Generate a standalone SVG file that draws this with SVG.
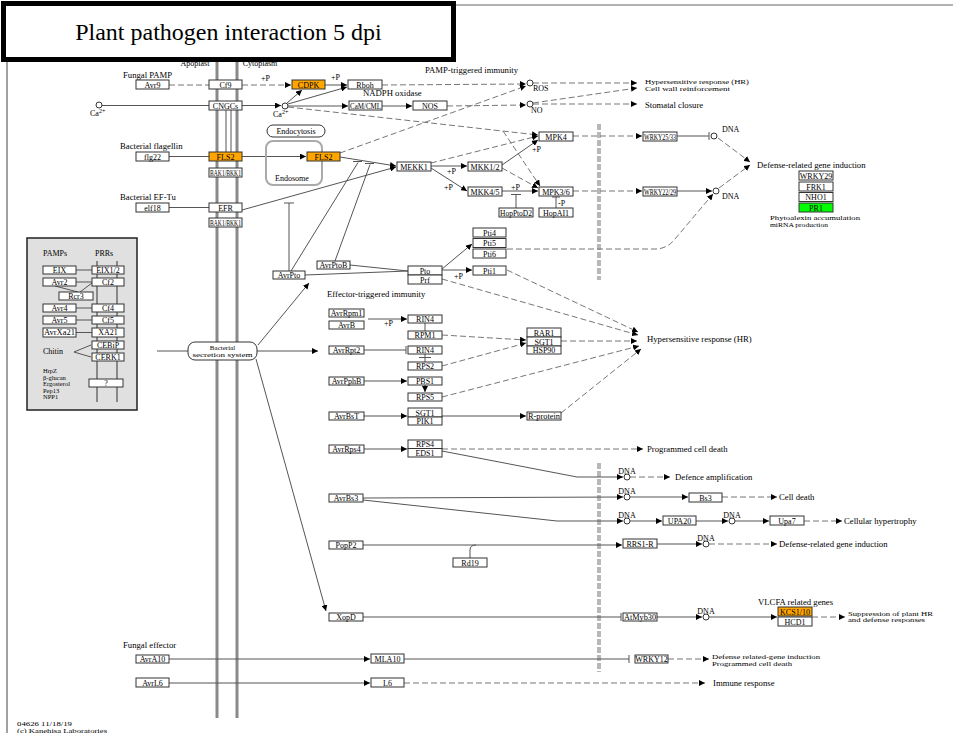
<svg xmlns="http://www.w3.org/2000/svg" width="953" height="733" viewBox="0 0 953 733">
<defs>
<marker id="ar" markerWidth="7" markerHeight="6" refX="6" refY="3" orient="auto" markerUnits="userSpaceOnUse"><path d="M0,0 L6,3 L0,6 z" fill="#000"/></marker>
<style>
.t{font-family:"Liberation Serif","Times New Roman",serif;font-size:8px;fill:#000}
.L{font-size:8.7px}
.sm{font-size:7px}
.xs{font-size:6.5px}
.c{text-anchor:middle}
.b{fill:#fff;stroke:#333;stroke-width:1}
.o{fill:#ffa500}
.g{fill:#00ff00}
.s{fill:none;stroke:#555;stroke-width:1}
.d{fill:none;stroke:#777;stroke-width:1;stroke-dasharray:6,3}
.a{marker-end:url(#ar)}
.cir{fill:#fff;stroke:#333;stroke-width:1}
.mem{stroke:#8a8a8a;stroke-width:3}
.nuc{stroke:#b8b8b8;stroke-width:4;stroke-dasharray:6,2}
.rr{fill:#fff;stroke:#333;stroke-width:1}
</style>
</defs>
<rect width="953" height="733" fill="#fff"/>
<g id="frame">
<line x1="453" y1="5" x2="953" y2="5" stroke="#666" stroke-width="1"/>
<line x1="7" y1="60" x2="7" y2="733" stroke="#444" stroke-width="1"/>
<line class="mem" x1="217" y1="60" x2="217" y2="718"/>
<line class="mem" x1="237" y1="60" x2="237" y2="718"/>
<line class="nuc" x1="599" y1="124" x2="599" y2="280"/>
<line class="nuc" x1="599" y1="463" x2="599" y2="672"/>
<text class="t c" x="195" y="66">Apoplast</text>
<text class="t c" x="260" y="66">Cytoplasm</text>
</g>

<g id="pamps-panel">
<rect x="27" y="238" width="110" height="172" fill="#e0e0e0" stroke="#222" stroke-width="1.5"/>
<line x1="97" y1="261" x2="97" y2="402" stroke="#888" stroke-width="2"/>
<line x1="117" y1="261" x2="117" y2="402" stroke="#888" stroke-width="2"/>
<text class="t" x="43" y="256">PAMPs</text>
<text class="t" x="95" y="256">PRRs</text>
<g class="s">
<line x1="76" y1="270" x2="92" y2="270"/>
<line x1="76" y1="282" x2="92" y2="282"/>
<line x1="55" y1="286" x2="78" y2="292"/>
<line x1="80" y1="292" x2="92" y2="283"/>
<line x1="76" y1="308" x2="92" y2="308"/>
<line x1="76" y1="320" x2="92" y2="320"/>
<line x1="76" y1="332.5" x2="92" y2="332.5"/>
<line x1="74" y1="352" x2="91" y2="345"/>
<line x1="74" y1="352" x2="91" y2="357"/>
</g>
<g id="n_eix"><rect class="b" x="43" y="266" width="33" height="8"/><text class="t c" x="59.5" y="272.5">EIX</text></g>
<g id="n_eix12"><rect class="b" x="92" y="266" width="32" height="8"/><text class="t c" x="108" y="272.5">EIX1/2</text></g>
<g id="n_avr2"><rect class="b" x="43" y="278" width="33" height="8"/><text class="t c" x="59.5" y="284.5">Avr2</text></g>
<g id="n_cf2"><rect class="b" x="92" y="278" width="32" height="8"/><text class="t c" x="108" y="284.5">Cf2</text></g>
<g id="n_rcr3"><rect class="b" x="59" y="292" width="34" height="8"/><text class="t c" x="76" y="298.5">Rcr3</text></g>
<g id="n_avr4"><rect class="b" x="43" y="304" width="33" height="8"/><text class="t c" x="59.5" y="310.5">Avr4</text></g>
<g id="n_cf4"><rect class="b" x="92" y="304" width="32" height="8"/><text class="t c" x="108" y="310.5">Cf4</text></g>
<g id="n_avr5"><rect class="b" x="43" y="316" width="33" height="8"/><text class="t c" x="59.5" y="322.5">Avr5</text></g>
<g id="n_cf5"><rect class="b" x="92" y="316" width="32" height="8"/><text class="t c" x="108" y="322.5">Cf5</text></g>
<g id="n_avrxa21"><rect class="b" x="43" y="328" width="33" height="9"/><text class="t c" x="59.5" y="335" textLength="31" lengthAdjust="spacingAndGlyphs">AvrXa21</text></g>
<g id="n_xa21"><rect class="b" x="92" y="328" width="32" height="9"/><text class="t c" x="108" y="335">XA21</text></g>
<g id="n_cebip"><rect class="b" x="92" y="341" width="32" height="8"/><text class="t c" x="108" y="347.5">CEBiP</text></g>
<g id="n_cerk1"><rect class="b" x="92" y="353" width="32" height="8"/><text class="t c" x="108" y="359.5">CERK1</text></g>
<g id="n_q"><rect class="b" x="89" y="379" width="34" height="8"/><text class="t c" x="106" y="385.5">?</text></g>
<text class="t" x="43" y="354">Chitin</text>
<text class="t xs" x="43" y="373">HrpZ</text>
<text class="t xs" x="43" y="379.5">β-glucan</text>
<text class="t xs" x="43" y="386">Ergosterol</text>
<text class="t xs" x="43" y="392.5">Pep13</text>
<text class="t xs" x="43" y="399">NPP1</text>
</g>

<g id="connectors">
<line class="d" x1="169" y1="85" x2="209" y2="85"/>
<line class="d a" x1="242" y1="85" x2="291" y2="85"/>
<line class="s" x1="102" y1="105.5" x2="209" y2="105.5"/>
<line class="s a" x1="242" y1="105.5" x2="281" y2="105.5"/>
<line class="s a" x1="287" y1="103" x2="302" y2="90"/>
<line class="s a" x1="325" y1="85" x2="347" y2="85"/>
<line class="s a" x1="288" y1="104" x2="347" y2="87"/>
<line class="s a" x1="288" y1="106" x2="348" y2="106"/>
<line class="s a" x1="382" y1="106" x2="412" y2="106"/>
<line class="d a" x1="447" y1="106" x2="526" y2="105"/>
<line class="d a" x1="382" y1="85" x2="526" y2="84"/>
<line class="d a" x1="533" y1="83" x2="637" y2="83"/>
<line class="d a" x1="533" y1="103" x2="637" y2="88"/>
<line class="d a" x1="533" y1="104" x2="637" y2="104"/>
<line class="d a" x1="340" y1="153" x2="526" y2="86"/>
<line class="d a" x1="288" y1="107" x2="538" y2="135"/>
<line class="d a" x1="503" y1="131" x2="540" y2="186"/>
<line class="s" x1="226" y1="110" x2="226" y2="152"/>
<line class="s" x1="231" y1="110" x2="231" y2="152"/>
<line class="s" x1="169" y1="156.5" x2="209" y2="156.5"/>
<line class="s a" x1="242" y1="156.5" x2="306" y2="156.5"/>
<line class="s a" x1="340" y1="157" x2="396" y2="166"/>
<line class="s a" x1="242" y1="210" x2="396" y2="167"/>
<line class="s" x1="169" y1="207.5" x2="209" y2="207.5"/>
<line class="s a" x1="431" y1="166" x2="467" y2="166"/>
<line class="s a" x1="431" y1="168" x2="467" y2="191"/>
<line class="d a" x1="431" y1="163" x2="538" y2="136"/>
<line class="s a" x1="502" y1="165" x2="538" y2="140"/>
<line class="d a" x1="502" y1="168" x2="538" y2="188"/>
<line class="s a" x1="502" y1="191" x2="538" y2="191"/>
<path class="s" d="M516,208 V194.5 M511,194.5 H521"/>
<path class="s" d="M556,208 V197 M552,197 H560"/>
<line class="d a" x1="573" y1="136" x2="642" y2="136"/>
<line class="d a" x1="573" y1="191" x2="642" y2="191"/>
<path class="s" d="M677,136 H709 M709,132 V140"/>
<line class="s a" x1="677" y1="191" x2="712" y2="191"/>
<line class="d a" x1="718" y1="138" x2="750" y2="162"/>
<line class="d a" x1="719" y1="188" x2="750" y2="165"/>
<path class="d a" d="M507,249 L655,249 Q667,249 675,239 L713,194"/>
<line class="s a" x1="442" y1="269" x2="472" y2="244"/>
<line class="s a" x1="442" y1="270" x2="472" y2="270"/>
<line class="s" x1="305" y1="275" x2="408" y2="271"/>
<line class="s" x1="350" y1="265" x2="408" y2="271"/>
<path class="s" d="M291,271 L358,162.5 M353,161.5 H362"/>
<path class="s" d="M335,261 L370,164.5 M365,163.5 H374"/>
<path class="s" d="M289,271 V203 M284,203 H294"/>
<line class="s" x1="157" y1="351" x2="188" y2="351"/>
<line class="s a" x1="258" y1="345" x2="309" y2="283"/>
<line class="s a" x1="257" y1="351" x2="318" y2="351"/>
<line class="s a" x1="256" y1="359" x2="326" y2="611"/>
<line class="s a" x1="368" y1="319" x2="407" y2="319"/>
<line class="s" x1="425" y1="323" x2="425" y2="331"/>
<path class="s" d="M364,350 H406 M406,346 V354"/>
<path class="s" d="M425,354 V362 M419,357.5 H431"/>
<line class="d a" x1="442" y1="335" x2="526" y2="340"/>
<line class="d a" x1="442" y1="366" x2="526" y2="343"/>
<line class="d a" x1="561" y1="341" x2="637" y2="341"/>
<line class="s a" x1="364" y1="381" x2="407" y2="381"/>
<line class="s a" x1="425" y1="385" x2="425" y2="392"/>
<line class="d a" x1="442" y1="397" x2="639" y2="346"/>
<line class="s a" x1="364" y1="416" x2="407" y2="416"/>
<line class="s a" x1="442" y1="416" x2="526" y2="416"/>
<line class="d a" x1="561" y1="413" x2="641" y2="349"/>
<line class="d a" x1="507" y1="270" x2="638" y2="332"/>
<line class="d a" x1="442" y1="279" x2="638" y2="335"/>
<line class="s a" x1="364" y1="449" x2="407" y2="449"/>
<line class="d a" x1="442" y1="449" x2="643" y2="449"/>
<path class="s a" d="M442,451 L577,477 L623,477"/>
<line class="d a" x1="630" y1="477" x2="670" y2="477"/>
<line class="s a" x1="363" y1="498" x2="623" y2="497"/>
<path class="s a" d="M363,500 L557,521 L623,521"/>
<line class="s a" x1="630" y1="497" x2="688" y2="497"/>
<line class="d a" x1="722" y1="497" x2="777" y2="497"/>
<line class="s a" x1="630" y1="521" x2="662" y2="521"/>
<line class="s a" x1="696" y1="521" x2="728" y2="521"/>
<line class="s a" x1="735" y1="521" x2="769" y2="521"/>
<line class="d a" x1="804" y1="521" x2="842" y2="521"/>
<line class="s a" x1="363" y1="545" x2="622" y2="545"/>
<path class="s" d="M470,558 V550 Q470,545 476,545"/>
<line class="s a" x1="657" y1="544" x2="702" y2="544"/>
<line class="d a" x1="709" y1="544" x2="777" y2="544"/>
<path class="s" d="M363,617 H621 M621,613 V621"/>
<line class="s a" x1="657" y1="617" x2="702" y2="617"/>
<line class="s a" x1="709" y1="617" x2="777" y2="617"/>
<line class="d a" x1="812" y1="617" x2="845" y2="617"/>
<line class="s a" x1="169" y1="659" x2="370" y2="659"/>
<path class="s" d="M404,659 H629 M629,655 V663"/>
<line class="d a" x1="668" y1="659" x2="709" y2="659"/>
<line class="s a" x1="169" y1="683" x2="370" y2="683"/>
<line class="d a" x1="404" y1="683" x2="705" y2="683"/>
</g>

<g id="compartments">
<g id="n_endocytosis"><rect class="rr" x="267" y="125" width="58" height="12" rx="6"/><text class="t c" x="296" y="134">Endocytosis</text></g>
<g id="n_endosome"><rect x="266" y="141" width="56" height="44" rx="7" fill="none" stroke="#aaa" stroke-width="2"/><text class="t c" x="292" y="181">Endosome</text></g>
<g id="n_bss"><rect class="rr" x="188" y="342" width="69" height="18" rx="7"/><text class="t c sm" x="222.5" y="350">Bacterial</text><text class="t c sm" x="222.5" y="357" textLength="60" lengthAdjust="spacingAndGlyphs">secretion system</text></g>
</g>

<g id="circles">
<circle class="cir" cx="99" cy="105" r="3"/>
<circle class="cir" cx="285" cy="106" r="3"/>
<circle class="cir" cx="530" cy="83" r="3"/>
<circle class="cir" cx="530" cy="104" r="3"/>
<circle class="cir" cx="714" cy="136" r="3"/>
<circle class="cir" cx="716" cy="191" r="3"/>
<circle class="cir" cx="627" cy="477" r="3"/>
<circle class="cir" cx="627" cy="497" r="3"/>
<circle class="cir" cx="627" cy="521" r="3"/>
<circle class="cir" cx="732" cy="521" r="3"/>
<circle class="cir" cx="706" cy="544" r="3"/>
<circle class="cir" cx="706" cy="617" r="3"/>
</g>

<g id="nodes">
<g id="n_avr9"><rect class="b" x="136" y="80" width="33" height="9"/><text class="t c" x="152.5" y="87.5">Avr9</text></g>
<g id="n_flg22"><rect class="b" x="136" y="152" width="33" height="9"/><text class="t c" x="152.5" y="159.5">flg22</text></g>
<g id="n_elf18"><rect class="b" x="136" y="203" width="33" height="9"/><text class="t c" x="152.5" y="210.5">elf18</text></g>
<g id="n_avra10"><rect class="b" x="136" y="655" width="33" height="8"/><text class="t c" x="152.5" y="661.5">AvrA10</text></g>
<g id="n_avrl6"><rect class="b" x="136" y="678" width="33" height="9"/><text class="t c" x="152.5" y="685.5">AvrL6</text></g>
<g id="n_cf9"><rect class="b" x="209" y="80" width="33" height="9"/><text class="t c" x="225.5" y="87.5">Cf9</text></g>
<g id="n_cngcs"><rect class="b" x="209" y="101" width="33" height="9"/><text class="t c" x="225.5" y="108.5">CNGCs</text></g>
<g id="n_fls2a"><rect class="b o" x="209" y="152" width="33" height="9"/><text class="t c" x="225.5" y="159.5">FLS2</text></g>
<g id="n_bak1a"><rect class="b" x="209" y="168" width="33" height="9"/><text class="t c" x="225.5" y="175.5" textLength="31" lengthAdjust="spacingAndGlyphs">BAK1/BKK1</text></g>
<g id="n_efr"><rect class="b" x="209" y="203" width="33" height="9"/><text class="t c" x="225.5" y="210.5">EFR</text></g>
<g id="n_bak1b"><rect class="b" x="209" y="218" width="33" height="9"/><text class="t c" x="225.5" y="225.5" textLength="31" lengthAdjust="spacingAndGlyphs">BAK1/BKK1</text></g>
<g id="n_cdpk"><rect class="b o" x="292" y="80" width="33" height="9"/><text class="t c" x="308.5" y="87.5">CDPK</text></g>
<g id="n_rboh"><rect class="b" x="348" y="80" width="34" height="9"/><text class="t c" x="365" y="87.5">Rboh</text></g>
<g id="n_camcml"><rect class="b" x="349" y="101" width="33" height="9"/><text class="t c" x="365.5" y="108.5" textLength="31" lengthAdjust="spacingAndGlyphs">CaM/CML</text></g>
<g id="n_nos"><rect class="b" x="413" y="101" width="34" height="9"/><text class="t c" x="430" y="108.5">NOS</text></g>
<g id="n_fls2b"><rect class="b o" x="307" y="152" width="33" height="9"/><text class="t c" x="323.5" y="159.5">FLS2</text></g>
<g id="n_mekk1"><rect class="b" x="397" y="162" width="34" height="9"/><text class="t c" x="414" y="169.5">MEKK1</text></g>
<g id="n_mkk12"><rect class="b" x="468" y="162" width="34" height="9"/><text class="t c" x="485" y="169.5">MKK1/2</text></g>
<g id="n_mkk45"><rect class="b" x="468" y="187" width="34" height="9"/><text class="t c" x="485" y="194.5">MKK4/5</text></g>
<g id="n_mpk4"><rect class="b" x="539" y="132" width="34" height="9"/><text class="t c" x="556" y="139.5">MPK4</text></g>
<g id="n_mpk36"><rect class="b" x="539" y="187" width="34" height="9"/><text class="t c" x="556" y="194.5">MPK3/6</text></g>
<g id="n_hopptod2"><rect class="b" x="499" y="208" width="34" height="9"/><text class="t c" x="516" y="215.5" textLength="32" lengthAdjust="spacingAndGlyphs">HopPtoD2</text></g>
<g id="n_hopai1"><rect class="b" x="539" y="208" width="34" height="9"/><text class="t c" x="556" y="215.5">HopAI1</text></g>
<g id="n_wrky2533"><rect class="b" x="643" y="132" width="34" height="9"/><text class="t c" x="660" y="139.5" textLength="32" lengthAdjust="spacingAndGlyphs">WRKY25/33</text></g>
<g id="n_wrky2229"><rect class="b" x="643" y="187" width="34" height="9"/><text class="t c" x="660" y="194.5" textLength="32" lengthAdjust="spacingAndGlyphs">WRKY22/29</text></g>
<g id="n_wrky29"><rect class="b" x="799" y="171" width="34" height="9"/><text class="t c" x="816" y="178.5">WRKY29</text></g>
<g id="n_frk1"><rect class="b" x="799" y="182" width="34" height="9"/><text class="t c" x="816" y="189.5">FRK1</text></g>
<g id="n_nho1"><rect class="b" x="799" y="192.5" width="34" height="9"/><text class="t c" x="816" y="200">NHO1</text></g>
<g id="n_pr1"><rect class="b g" x="799" y="203" width="34" height="9"/><text class="t c" x="816" y="210.5">PR1</text></g>
<g id="n_pti4"><rect class="b" x="473" y="228" width="33" height="9"/><text class="t c" x="489.5" y="235.5">Pti4</text></g>
<g id="n_pti5"><rect class="b" x="473" y="238.5" width="33" height="9"/><text class="t c" x="489.5" y="246">Pti5</text></g>
<g id="n_pti6"><rect class="b" x="473" y="249" width="33" height="9"/><text class="t c" x="489.5" y="256.5">Pti6</text></g>
<g id="n_pti1"><rect class="b" x="473" y="266" width="33" height="9"/><text class="t c" x="489.5" y="273.5">Pti1</text></g>
<g id="n_pto"><rect class="b" x="408" y="266" width="34" height="9"/><text class="t c" x="425" y="273.5">Pto</text></g>
<g id="n_prf"><rect class="b" x="408" y="275" width="34" height="9"/><text class="t c" x="425" y="282.5">Prf</text></g>
<g id="n_avrpto"><rect class="b" x="273" y="271" width="32" height="8"/><text class="t c" x="289" y="277.5">AvrPto</text></g>
<g id="n_avrptob"><rect class="b" x="317" y="261" width="33" height="8"/><text class="t c" x="333.5" y="267.5">AvrPtoB</text></g>
<g id="n_avrrpm1"><rect class="b" x="329" y="309" width="35" height="8"/><text class="t c" x="346.5" y="315.5">AvrRpm1</text></g>
<g id="n_avrb"><rect class="b" x="329" y="321" width="35" height="8"/><text class="t c" x="346.5" y="327.5">AvrB</text></g>
<g id="n_rin4a"><rect class="b" x="408" y="315" width="34" height="8"/><text class="t c" x="425" y="321.5">RIN4</text></g>
<g id="n_rpm1"><rect class="b" x="408" y="331" width="34" height="8"/><text class="t c" x="425" y="337.5">RPM1</text></g>
<g id="n_avrrpt2"><rect class="b" x="329" y="346" width="35" height="8"/><text class="t c" x="346.5" y="352.5">AvrRpt2</text></g>
<g id="n_rin4b"><rect class="b" x="408" y="346" width="34" height="8"/><text class="t c" x="425" y="352.5">RIN4</text></g>
<g id="n_rps2"><rect class="b" x="408" y="362" width="34" height="8"/><text class="t c" x="425" y="368.5">RPS2</text></g>
<g id="n_rar1"><rect class="b" x="527" y="328" width="34" height="9"/><text class="t c" x="544" y="335.5">RAR1</text></g>
<g id="n_sgt1a"><rect class="b" x="527" y="337" width="34" height="9"/><text class="t c" x="544" y="344.5">SGT1</text></g>
<g id="n_hsp90"><rect class="b" x="527" y="346" width="34" height="8"/><text class="t c" x="544" y="352.5">HSP90</text></g>
<g id="n_avrpphb"><rect class="b" x="329" y="377" width="35" height="8"/><text class="t c" x="346.5" y="383.5">AvrPphB</text></g>
<g id="n_pbs1"><rect class="b" x="408" y="377" width="34" height="8"/><text class="t c" x="425" y="383.5">PBS1</text></g>
<g id="n_rps5"><rect class="b" x="408" y="393" width="34" height="8"/><text class="t c" x="425" y="399.5">RPS5</text></g>
<g id="n_avrbst"><rect class="b" x="329" y="412" width="35" height="8"/><text class="t c" x="346.5" y="418.5">AvrBsT</text></g>
<g id="n_sgt1b"><rect class="b" x="408" y="408" width="34" height="9"/><text class="t c" x="425" y="415.5">SGT1</text></g>
<g id="n_pik1"><rect class="b" x="408" y="417" width="34" height="8"/><text class="t c" x="425" y="423.5">PIK1</text></g>
<g id="n_rprotein"><rect class="b" x="527" y="412" width="34" height="8"/><text class="t c" x="544" y="418.5" textLength="32" lengthAdjust="spacingAndGlyphs">R-protein</text></g>
<g id="n_avrrps4"><rect class="b" x="329" y="445" width="35" height="8"/><text class="t c" x="346.5" y="451.5">AvrRps4</text></g>
<g id="n_rps4"><rect class="b" x="408" y="440" width="34" height="8.5"/><text class="t c" x="425" y="447">RPS4</text></g>
<g id="n_eds1"><rect class="b" x="408" y="448.5" width="34" height="8.5"/><text class="t c" x="425" y="455.5">EDS1</text></g>
<g id="n_avrbs3"><rect class="b" x="329" y="494" width="34" height="8"/><text class="t c" x="346" y="500.5">AvrBs3</text></g>
<g id="n_popp2"><rect class="b" x="329" y="541" width="34" height="8"/><text class="t c" x="346" y="547.5">PopP2</text></g>
<g id="n_rd19"><rect class="b" x="453" y="558" width="34" height="9"/><text class="t c" x="470" y="565.5">Rd19</text></g>
<g id="n_xopd"><rect class="b" x="329" y="613" width="34" height="8"/><text class="t c" x="346" y="619.5">XopD</text></g>
<g id="n_mla10"><rect class="b" x="371" y="654" width="33" height="9"/><text class="t c" x="387.5" y="661.5">MLA10</text></g>
<g id="n_l6"><rect class="b" x="371" y="678" width="33" height="9"/><text class="t c" x="387.5" y="685.5">L6</text></g>
<g id="n_bs3"><rect class="b" x="689" y="493" width="33" height="9"/><text class="t c" x="705.5" y="500.5">Bs3</text></g>
<g id="n_upa20"><rect class="b" x="663" y="516" width="33" height="9"/><text class="t c" x="679.5" y="523.5">UPA20</text></g>
<g id="n_upa7"><rect class="b" x="770" y="516" width="34" height="9"/><text class="t c" x="787" y="523.5">Upa7</text></g>
<g id="n_rrs1r"><rect class="b" x="623" y="539" width="34" height="9"/><text class="t c" x="640" y="546.5">RRS1-R</text></g>
<g id="n_atmyb30"><rect class="b" x="623" y="613" width="34" height="8"/><text class="t c" x="640" y="619.5" textLength="32" lengthAdjust="spacingAndGlyphs">AtMyb30</text></g>
<g id="n_kcs"><rect class="b o" x="778" y="607" width="34" height="9"/><text class="t c" x="795" y="614.5">KCS1/10</text></g>
<g id="n_hcd1"><rect class="b" x="778" y="617" width="34" height="9"/><text class="t c" x="795" y="624.5">HCD1</text></g>
<g id="n_wrky12"><rect class="b" x="635" y="655" width="33" height="8"/><text class="t c" x="651.5" y="661.5">WRKY12</text></g>
</g>

<g id="labels">
<text class="t L" x="123" y="78">Fungal PAMP</text>
<text class="t" x="90" y="116">Ca<tspan font-size="6" dy="-3">2+</tspan></text>
<text class="t" x="273" y="117">Ca<tspan font-size="6" dy="-3">2+</tspan></text>
<text class="t L" x="120" y="149">Bacterial flagellin</text>
<text class="t L" x="120" y="200">Bacterial EF-Tu</text>
<text class="t" x="261" y="81">+P</text>
<text class="t" x="331" y="80">+P</text>
<text class="t L" x="363" y="96">NADPH oxidase</text>
<text class="t L" x="425" y="73">PAMP-triggered immunity</text>
<text class="t" x="533" y="91">ROS</text>
<text class="t" x="531" y="113">NO</text>
<text class="t sm" x="645" y="84" textLength="104" lengthAdjust="spacingAndGlyphs">Hypersensitive response (HR)</text>
<text class="t sm" x="645" y="91" textLength="85" lengthAdjust="spacingAndGlyphs">Cell wall reinforcement</text>
<text class="t L" x="645" y="108">Stomatal closure</text>
<text class="t" x="447" y="174">+P</text>
<text class="t" x="444" y="190">+P</text>
<text class="t" x="532" y="152">+P</text>
<text class="t" x="511" y="190">+P</text>
<text class="t" x="558" y="206">-P</text>
<text class="t" x="722" y="132">DNA</text>
<text class="t" x="722" y="199">DNA</text>
<text class="t L" x="757" y="168">Defense-related gene induction</text>
<text class="t sm" x="770" y="220" textLength="90" lengthAdjust="spacingAndGlyphs">Phytoalexin accumulation</text>
<text class="t sm" x="770" y="227" textLength="58" lengthAdjust="spacingAndGlyphs">miRNA production</text>
<text class="t" x="454" y="279">+P</text>
<text class="t L" x="327" y="297">Effector-triggered immunity</text>
<text class="t" x="384" y="326">+P</text>
<text class="t L" x="647" y="342">Hypersensitive response (HR)</text>
<text class="t L" x="647" y="452">Programmed cell death</text>
<text class="t c" x="627" y="474">DNA</text>
<text class="t L" x="675" y="480">Defence amplification</text>
<text class="t c" x="627" y="494">DNA</text>
<text class="t L" x="779" y="500">Cell death</text>
<text class="t c" x="627" y="518">DNA</text>
<text class="t c" x="732" y="518">DNA</text>
<text class="t L" x="844" y="524">Cellular hypertrophy</text>
<text class="t c" x="706" y="541">DNA</text>
<text class="t L" x="779" y="547">Defense-related gene induction</text>
<text class="t L" x="758" y="605">VLCFA related genes</text>
<text class="t c" x="706" y="614">DNA</text>
<text class="t sm" x="848" y="615.5" textLength="85" lengthAdjust="spacingAndGlyphs">Suppression of plant HR</text>
<text class="t sm" x="848" y="622" textLength="77" lengthAdjust="spacingAndGlyphs">and defense responses</text>
<text class="t L" x="123" y="648">Fungal effector</text>
<text class="t sm" x="712" y="659" textLength="108" lengthAdjust="spacingAndGlyphs">Defense related-gene induction</text>
<text class="t sm" x="712" y="665.5" textLength="80" lengthAdjust="spacingAndGlyphs">Programmed cell death</text>
<text class="t L" x="713" y="686">Immune response</text>
<text class="t sm" x="17" y="726" textLength="55" lengthAdjust="spacingAndGlyphs">04626 11/18/19</text>
<text class="t sm" x="17" y="732.5" textLength="90" lengthAdjust="spacingAndGlyphs">(c) Kanehisa Laboratories</text>
</g>

<g id="title">
<rect x="3.5" y="3.5" width="450" height="56" fill="#fff" stroke="#000" stroke-width="5"/>
<text x="228.5" y="40" font-family="Liberation Serif, Times New Roman, serif" font-size="24" text-anchor="middle" fill="#000">Plant pathogen interaction 5 dpi</text>
</g>
</svg>
